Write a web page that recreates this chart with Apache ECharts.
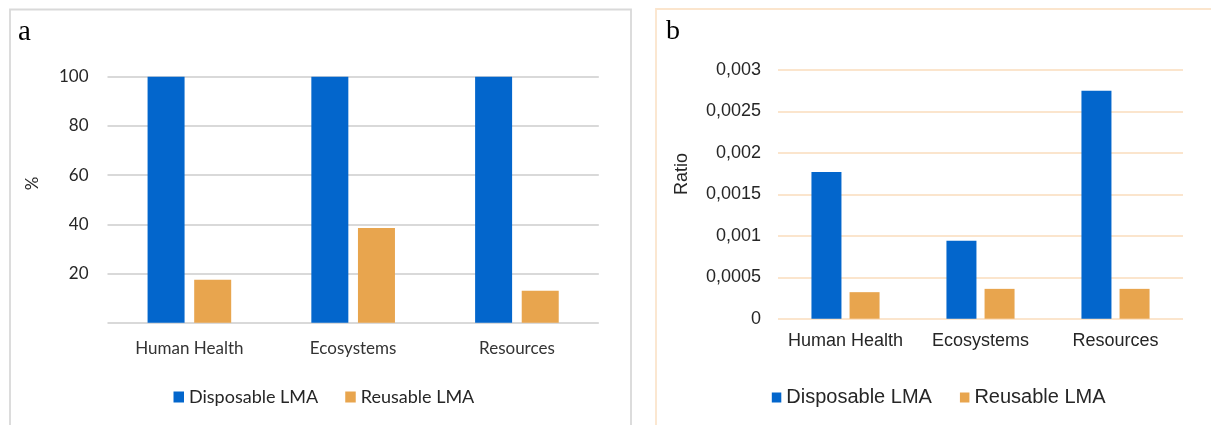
<!DOCTYPE html>
<html>
<head>
<meta charset="utf-8">
<script src="https://cdn.jsdelivr.net/npm/echarts@6/dist/echarts.min.js"></script>
<style>
  html, body { margin: 0; padding: 0; background: #ffffff; }
  #chart { width: 1211px; height: 425px; }
</style>
</head>
<body>
<div id="chart"></div>
<script>
// Impact categories shared by both panels
const categories = ['Human Health', 'Ecosystems', 'Resources'];
const seriesNames = ['Disposable LMA', 'Reusable LMA'];

// Panel a: relative impact (%)
const pctDisposable = [100, 100, 100];
const pctReusable = [17.5, 38.5, 13];

// Panel b: impact ratio
const ratioDisposable = [0.00177, 0.00094, 0.00275];
const ratioReusable = [0.00032, 0.00036, 0.00036];

const BLUE = '#0366cc';
const ORANGE = '#e8a54e';
const FONT_A = 'Lato';
const FONT_B = 'Liberation Sans';

const chart = echarts.init(document.getElementById('chart'), null, { renderer: 'canvas' });

const ratioLabel = v => parseFloat(v.toFixed(6)).toString().replace('.', ',');

chart.setOption({
  animation: false,
  backgroundColor: '#ffffff',
  grid: [
    { left: 107.5, right: 612.2, top: 76.7, bottom: 102.3 },
    { left: 778, right: 28, top: 70, bottom: 106.3 }
  ],
  xAxis: [
    {
      type: 'category', gridIndex: 0, data: categories,
      axisLine: { show: false }, axisTick: { show: false },
      axisLabel: { interval: 0, margin: 17, fontFamily: FONT_A, fontSize: 17, color: '#333333' }
    },
    {
      type: 'category', gridIndex: 1, data: categories,
      axisLine: { show: false }, axisTick: { show: false },
      axisLabel: { interval: 0, hideOverlap: false, margin: 13, fontFamily: FONT_B, fontSize: 18, color: '#262626' }
    }
  ],
  yAxis: [
    {
      type: 'value', gridIndex: 0, min: 0, max: 100, interval: 20,
      axisLine: { show: false }, axisTick: { show: false },
      axisLabel: { margin: 19, fontFamily: FONT_A, fontSize: 17, color: '#262626',
        formatter: v => (v === 0 ? '' : String(v)) },
      splitLine: { lineStyle: { color: '#d9d9d9', width: 2 } }
    },
    {
      type: 'value', gridIndex: 1, min: 0, max: 0.003, interval: 0.0005,
      axisLine: { show: false }, axisTick: { show: false },
      axisLabel: { margin: 17, fontFamily: FONT_B, fontSize: 18, color: '#262626',
        formatter: ratioLabel },
      splitLine: { lineStyle: { color: '#fbe5cd', width: 2 } }
    }
  ],
  legend: [
    {
      data: seriesNames, left: 173.5, top: 388, padding: 0, icon: 'rect',
      itemWidth: 10.5, itemHeight: 11, itemGap: 27,
      textStyle: { fontFamily: FONT_A, fontSize: 18, color: '#262626' }
    },
    {
      data: seriesNames, left: 771.8, top: 387.5, padding: 0, icon: 'rect',
      itemWidth: 9.5, itemHeight: 10, itemGap: 28,
      textStyle: { fontFamily: FONT_B, fontSize: 20, color: '#262626' }
    }
  ],
  series: [
    { name: seriesNames[0], type: 'bar', xAxisIndex: 0, yAxisIndex: 0, data: pctDisposable,
      barWidth: 37, barGap: '26%', itemStyle: { color: BLUE } },
    { name: seriesNames[1], type: 'bar', xAxisIndex: 0, yAxisIndex: 0, data: pctReusable,
      barWidth: 37, barGap: '26%', itemStyle: { color: ORANGE } },
    { name: seriesNames[0], type: 'bar', xAxisIndex: 1, yAxisIndex: 1, data: ratioDisposable,
      barWidth: 30, barGap: '27%', itemStyle: { color: BLUE } },
    { name: seriesNames[1], type: 'bar', xAxisIndex: 1, yAxisIndex: 1, data: ratioReusable,
      barWidth: 30, barGap: '27%', itemStyle: { color: ORANGE } }
  ],
  graphic: [
    // panel frames
    { type: 'rect', shape: { x: 10, y: 9.5, width: 621, height: 430 }, silent: true,
      style: { fill: 'none', stroke: '#d9d9d9', lineWidth: 1.8 } },
    { type: 'rect', shape: { x: 656, y: 9, width: 600, height: 430 }, silent: true,
      style: { fill: 'none', stroke: '#fbe5cd', lineWidth: 1.8 } },
    // panel letters
    { type: 'text', x: 18, y: 32, silent: true,
      style: { text: 'a', font: '29px "Liberation Serif"', fill: '#000000', verticalAlign: 'middle' } },
    { type: 'text', x: 666, y: 32, silent: true,
      style: { text: 'b', font: '28px "Liberation Serif"', fill: '#000000', verticalAlign: 'middle' } },
    // axis titles
    { type: 'text', x: 32.5, y: 183.5, rotation: Math.PI / 2, silent: true,
      style: { text: '%', font: '17px Lato', fill: '#262626', align: 'center', verticalAlign: 'middle' } },
    { type: 'text', x: 682, y: 174, rotation: Math.PI / 2, silent: true,
      style: { text: 'Ratio', font: '18px "Liberation Sans"', fill: '#262626', align: 'center', verticalAlign: 'middle' } }
  ]
});
</script>
</body>
</html>
